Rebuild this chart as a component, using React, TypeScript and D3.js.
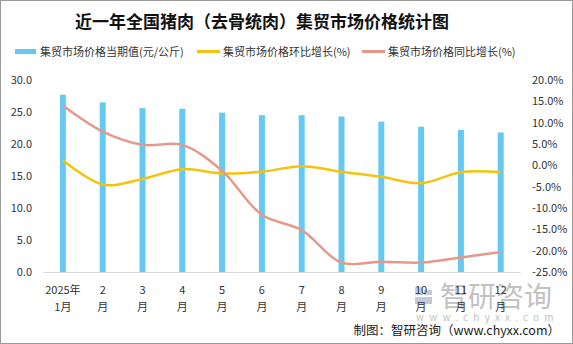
import * as d3 from "d3";
import { useEffect, useRef } from "react";

const WIDTH = 573;
const HEIGHT = 344;

const months = ["1", "2", "3", "4", "5", "6", "7", "8", "9", "10", "11", "12"];
const priceValues = [27.7, 26.5, 25.6, 25.5, 24.9, 24.5, 24.5, 24.3, 23.5, 22.7, 22.2, 21.8];
const momValues = [1.2, -4.5, -3.2, -0.9, -1.9, -1.5, -0.2, -1.5, -2.7, -4.2, -1.6, -1.6];
const yoyValues = [14.0, 7.9, 4.8, 4.8, -1.3, -11.6, -15.2, -22.8, -22.6, -22.8, -21.6, -20.3];
const leftTicks = [0, 5, 10, 15, 20, 25, 30];
const rightTicks = [-25, -20, -15, -10, -5, 0, 5, 10, 15, 20];

const BAR_COLOR = "#65c9f1";
const MOM_COLOR = "#f2c40f";
const YOY_COLOR = "#e5998b";
const FONT = "'Noto Sans CJK SC', 'Noto Sans', sans-serif";

export default function App() {
  const ref = useRef<SVGSVGElement>(null);

  useEffect(() => {
    const svg = d3.select(ref.current);
    svg.selectAll("*").remove();

    svg
      .append("rect")
      .attr("x", 0.5)
      .attr("y", 0.5)
      .attr("width", WIDTH - 1)
      .attr("height", HEIGHT - 1)
      .attr("fill", "#fff")
      .attr("stroke", "#9a9a9a");

    const x = d3.scaleBand().domain(months).range([43, 520.6]);
    const yLeft = d3.scaleLinear().domain([0, 30]).range([272, 80]);
    const yRight = d3.scaleLinear().domain([-25, 20]).range([272, 80]);

    // title
    svg
      .append("text")
      .attr("x", 262)
      .attr("y", 28)
      .attr("text-anchor", "middle")
      .attr("font-family", FONT)
      .attr("font-size", 17)
      .attr("font-weight", "bold")
      .attr("fill", "#111")
      .text("近一年全国猪肉（去骨统肉）集贸市场价格统计图");

    // legend
    const legend = svg.append("g").attr("font-family", FONT).attr("font-size", 11).attr("fill", "#333");
    legend.append("rect").attr("x", 15).attr("y", 49).attr("width", 21).attr("height", 5).attr("fill", BAR_COLOR);
    legend.append("text").attr("x", 40).attr("y", 55.5).text("集贸市场价格当期值(元/公斤)");
    legend.append("line").attr("x1", 197).attr("x2", 220).attr("y1", 51.5).attr("y2", 51.5).attr("stroke", MOM_COLOR).attr("stroke-width", 3);
    legend.append("text").attr("x", 223).attr("y", 55.5).text("集贸市场价格环比增长(%)");
    legend.append("line").attr("x1", 362).attr("x2", 385).attr("y1", 51.5).attr("y2", 51.5).attr("stroke", YOY_COLOR).attr("stroke-width", 3);
    legend.append("text").attr("x", 388).attr("y", 55.5).text("集贸市场价格同比增长(%)");

    // left axis labels
    svg
      .append("g")
      .attr("font-family", FONT)
      .attr("font-size", 11)
      .attr("fill", "#333")
      .selectAll("text")
      .data(leftTicks)
      .join("text")
      .attr("x", 32)
      .attr("y", (d) => yLeft(d) + 4)
      .attr("text-anchor", "end")
      .text((d) => d.toFixed(1));

    // right axis labels
    svg
      .append("g")
      .attr("font-family", FONT)
      .attr("font-size", 11)
      .attr("fill", "#333")
      .selectAll("text")
      .data(rightTicks)
      .join("text")
      .attr("x", 532)
      .attr("y", (d) => yRight(d) + 4)
      .text((d) => d.toFixed(1) + "%");

    // baseline
    svg
      .append("line")
      .attr("x1", 43)
      .attr("x2", 520.6)
      .attr("y1", 272.5)
      .attr("y2", 272.5)
      .attr("stroke", "#d9d9d9");

    // bars
    const barW = 6;
    svg
      .append("g")
      .selectAll("rect")
      .data(priceValues)
      .join("rect")
      .attr("x", (_, i) => x(months[i])! + x.bandwidth() / 2 - barW / 2)
      .attr("y", (d) => yLeft(d))
      .attr("width", barW)
      .attr("height", (d) => yLeft(0) - yLeft(d))
      .attr("fill", BAR_COLOR);

    const line = d3
      .line<number>()
      .curve(d3.curveCatmullRom.alpha(0.5))
      .x((_, i) => x(months[i])! + x.bandwidth() / 2)
      .y((d) => yRight(d));

    svg
      .append("path")
      .attr("d", line(momValues) ?? "")
      .attr("fill", "none")
      .attr("stroke", MOM_COLOR)
      .attr("stroke-width", 2.5);

    svg
      .append("path")
      .attr("d", line(yoyValues) ?? "")
      .attr("fill", "none")
      .attr("stroke", YOY_COLOR)
      .attr("stroke-width", 2.5);

    // watermark
    const wm = svg.append("g").attr("opacity", 0.6);
    wm.append("rect").attr("x", 415).attr("y", 287).attr("width", 8).attr("height", 8).attr("fill", "#8fb4d8");
    wm.append("rect").attr("x", 424).attr("y", 290).attr("width", 8).attr("height", 5).attr("fill", "#9aa8b8");
    wm.append("rect").attr("x", 415).attr("y", 297).attr("width", 17).attr("height", 7).attr("fill", "#9aa8b8");
    wm.append("text")
      .attr("x", 440)
      .attr("y", 307)
      .attr("font-family", FONT)
      .attr("font-size", 28)
      .attr("fill", "#9a9a9a")
      .text("智研咨询");
    wm.append("text")
      .attr("x", 416)
      .attr("y", 321)
      .attr("font-family", FONT)
      .attr("font-size", 10)
      .attr("letter-spacing", 5.2)
      .attr("fill", "#999")
      .text("www.chyxx.com");

    // x axis labels
    const xLabels = svg
      .append("g")
      .attr("font-family", FONT)
      .attr("font-size", 11)
      .attr("fill", "#333")
      .attr("text-anchor", "middle");
    months.forEach((m, i) => {
      const cx = x(m)! + x.bandwidth() / 2;
      xLabels
        .append("text")
        .attr("x", cx)
        .attr("y", 294)
        .text(i === 0 ? "2025年" : m);
      xLabels
        .append("text")
        .attr("x", cx)
        .attr("y", 311)
        .text(i === 0 ? "1月" : "月");
    });

    // source
    svg
      .append("text")
      .attr("x", 560)
      .attr("y", 335)
      .attr("text-anchor", "end")
      .attr("font-family", FONT)
      .attr("font-size", 12.5)
      .attr("fill", "#222")
      .text("制图：智研咨询（www.chyxx.com）");
  }, []);

  return (
    <div style={{ position: "fixed", left: 0, top: 0 }}>
      <svg ref={ref} width={WIDTH} height={HEIGHT} />
    </div>
  );
}
